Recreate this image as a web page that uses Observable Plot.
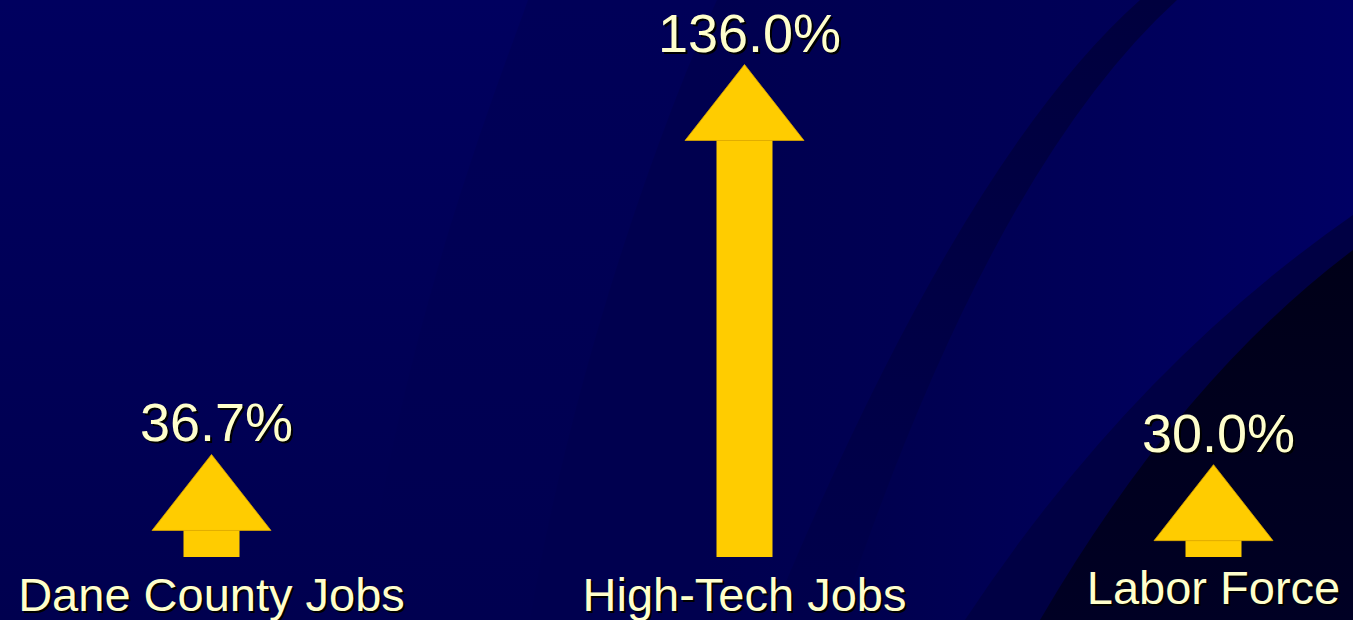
<!DOCTYPE html>
<html>
<head>
<meta charset="utf-8">
<script src="https://cdn.jsdelivr.net/npm/d3@7"></script>
<script src="https://cdn.jsdelivr.net/npm/@observablehq/plot@0.6"></script>
<style>
  html, body { margin: 0; padding: 0; background: #00004e; overflow: hidden; }
  #wrap { position: relative; width: 1353px; height: 620px; }
  #bg, #chart { position: absolute; left: 0; top: 0; }
</style>
</head>
<body>
<div id="wrap">
  <svg id="bg" width="1353" height="620" viewBox="0 0 1353 620">
    <defs>
      <linearGradient id="gBase" x1="0" y1="0" x2="0" y2="1">
        <stop offset="0" stop-color="#00005f"/><stop offset="1" stop-color="#00004f"/>
      </linearGradient>
      <linearGradient id="gMid" x1="0" y1="0" x2="0" y2="1">
        <stop offset="0" stop-color="#000058"/><stop offset="1" stop-color="#000050"/>
      </linearGradient>
      <linearGradient id="gRight" gradientUnits="userSpaceOnUse" x1="700" y1="0" x2="1140" y2="0">
        <stop offset="0" stop-color="#00004f"/><stop offset="1" stop-color="#000058"/>
      </linearGradient>
      <linearGradient id="gBand" x1="0" y1="0" x2="0" y2="1">
        <stop offset="0" stop-color="#00003e"/><stop offset="0.55" stop-color="#000046"/><stop offset="1" stop-color="#00004c"/>
      </linearGradient>
      <linearGradient id="gTR" gradientUnits="userSpaceOnUse" x1="850" y1="0" x2="1353" y2="0">
        <stop offset="0" stop-color="#00004e"/><stop offset="1" stop-color="#000064"/>
      </linearGradient>
      <linearGradient id="gCorner" x1="0" y1="0" x2="0" y2="1">
        <stop offset="0" stop-color="#000018"/><stop offset="1" stop-color="#000024"/>
      </linearGradient>
    </defs>
    <rect width="1353" height="620" fill="url(#gBase)"/>
    <path d="M528,0 C500,80 400,330 363,620 L1353,620 L1353,0 Z" fill="url(#gMid)"/>
    <path d="M717,0 C680,80 580,330 530,620 L1353,620 L1353,0 Z" fill="url(#gRight)"/>
    <path d="M1140,0 Q960,160 770,620 L1353,620 L1353,0 Z" fill="url(#gBand)"/>
    <path d="M1177,0 Q990,170 840,620 L1353,620 L1353,0 Z" fill="url(#gTR)"/>
    <path d="M1353,215 Q1130,370 965,620 L1353,620 Z" fill="#000044"/>
    <path d="M1353,250 Q1180,380 1040,620 L1353,620 Z" fill="url(#gCorner)"/>
  </svg>
  <div id="chart"></div>
</div>
<script>
// ---- data ----
const categories = ["Dane County Jobs", "High-Tech Jobs", "Labor Force"];
const growth = [36.7, 136.0, 30.0];
const valueLabels = ["36.7%", "136.0%", "30.0%"];

// ---- style ----
const YELLOW = "#FFCC00";
const TEXT = "#FFFFCC";
const FONT = "'Liberation Sans', Arial, sans-serif";
const nudgeX = {"Dane County Jobs": 0, "High-Tech Jobs": 32, "Labor Force": 0};
const labelLift = {"Dane County Jobs": 10, "High-Tech Jobs": 10, "Labor Force": 17};

const rows = categories.map((c, i) => ({category: c, value: growth[i], label: valueLabels[i]}));

// arrow head: tip at the data point, fixed-size triangle below it
const arrowHead = {
  draw(context) {
    context.moveTo(0, 0);
    context.lineTo(59.5, 76);
    context.lineTo(-59.5, 76);
    context.closePath();
  }
};

const marks = rows.flatMap(r => {
  const d = [r];
  const dx = nudgeX[r.category];
  const lift = labelLift[r.category];
  return [
    Plot.ruleX(d, {x: "category", y1: "value", y2: 0, stroke: YELLOW, strokeWidth: 56,
                   insetTop: 74, insetBottom: -72.4, dx}),
    Plot.dot(d, {x: "category", y: "value", symbol: arrowHead, fill: YELLOW,
                 stroke: "#D9A400", strokeWidth: 0.8, dx}),
    Plot.text(d, {x: "category", y: "value", text: "label", lineAnchor: "bottom",
                  fontSize: 54, fontFamily: FONT, fill: "#000000", dx: dx + 7, dy: -11}),
    Plot.text(d, {x: "category", y: "value", text: "label", lineAnchor: "bottom",
                  fontSize: 54, fontFamily: FONT, fill: TEXT, dx: dx + 5, dy: -13}),
    Plot.text(d, {x: "category", text: "category", frameAnchor: "bottom", lineAnchor: "bottom",
                  fontSize: 47, fontFamily: FONT, fill: "#000000", dx: dx + 2, dy: -lift + 2}),
    Plot.text(d, {x: "category", text: "category", frameAnchor: "bottom", lineAnchor: "bottom",
                  fontSize: 47, fontFamily: FONT, fill: TEXT, dx, dy: -lift})
  ];
});

const chart = Plot.plot({
  width: 1353,
  height: 620,
  margin: 0,
  style: {background: "transparent", overflow: "visible"},
  x: {type: "point", domain: categories, range: [211, 1213], padding: 0, axis: null},
  y: {type: "pow", exponent: 2, domain: [0, 140], range: [484.6, 38.9], axis: null},
  marks
});
document.getElementById("chart").appendChild(chart);
</script>
</body>
</html>
